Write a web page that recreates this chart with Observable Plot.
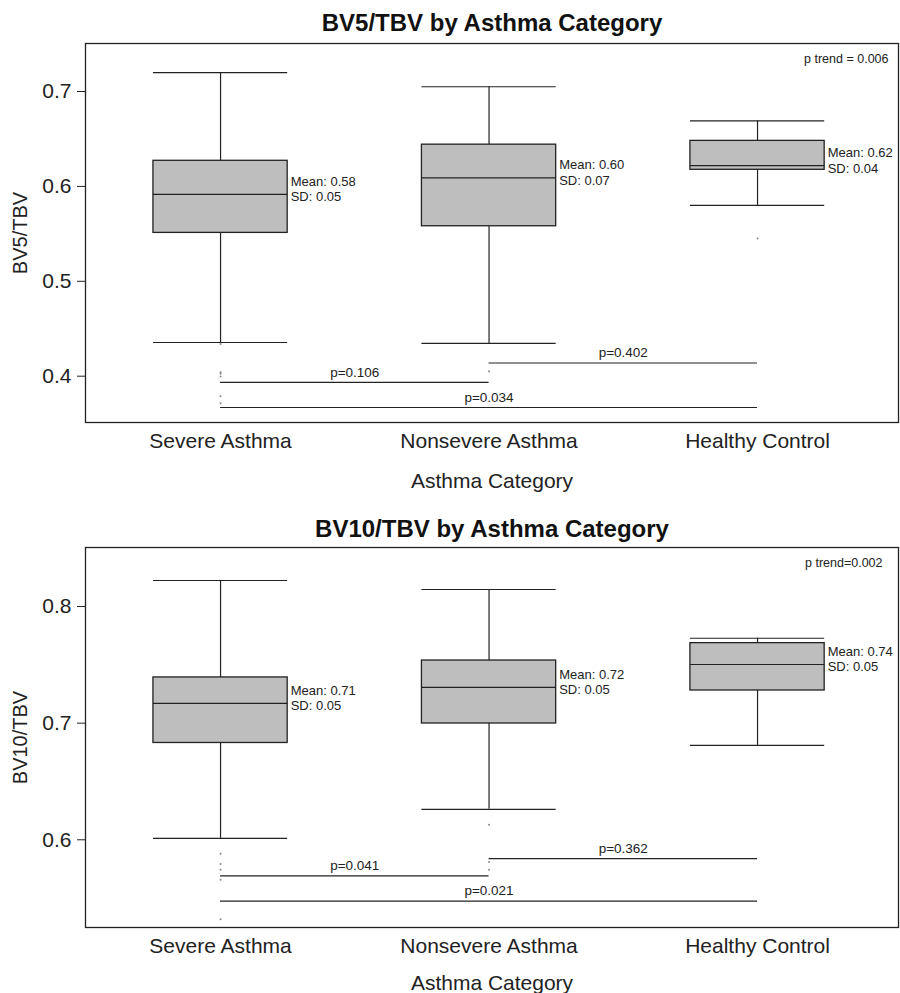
<!DOCTYPE html>
<html><head><meta charset="utf-8">
<script src="https://cdn.jsdelivr.net/npm/d3@7"></script>
<script src="https://cdn.jsdelivr.net/npm/@observablehq/plot@0.6"></script>
<style>
body{margin:0;background:#fff;font-family:"Liberation Sans",Arial,Helvetica,sans-serif;}
#root{width:900px;}
svg{display:block}
</style></head><body><div id="root"></div>
<script>
const categories = ["Severe Asthma", "Nonsevere Asthma", "Healthy Control"];
const xAxisLabel = "Asthma Category";

// Panel 1: BV5/TBV
const bv5Title = "BV5/TBV by Asthma Category";
const bv5YLabel = "BV5/TBV";
const bv5Ticks = [0.4, 0.5, 0.6, 0.7];
const bv5WhiskerHigh = [0.720, 0.705, 0.669];
const bv5Q3 = [0.627, 0.644, 0.648];
const bv5Median = [0.5915, 0.609, 0.622];
const bv5Q1 = [0.551, 0.558, 0.6175];
const bv5WhiskerLow = [0.4355, 0.4345, 0.580];
const bv5Mean = ["0.58", "0.60", "0.62"];
const bv5SD = ["0.05", "0.07", "0.04"];
const bv5OutlierCat = [0, 0, 0, 0, 0, 0, 1, 2];
const bv5OutlierValue = [0.434, 0.4042, 0.4025, 0.3997, 0.3789, 0.3715, 0.4053, 0.545];
const bv5PFrom = [0, 1, 0];
const bv5PTo = [1, 2, 2];
const bv5PLevel = [0.3934, 0.4139, 0.367];
const bv5PText = ["p=0.106", "p=0.402", "p=0.034"];
const bv5Trend = "p trend = 0.006";

// Panel 2: BV10/TBV
const bv10Title = "BV10/TBV by Asthma Category";
const bv10YLabel = "BV10/TBV";
const bv10Ticks = [0.6, 0.7, 0.8];
const bv10WhiskerHigh = [0.8223, 0.8146, 0.7728];
const bv10Q3 = [0.7392, 0.7537, 0.7686];
const bv10Median = [0.7169, 0.7306, 0.7503];
const bv10Q1 = [0.683, 0.6997, 0.728];
const bv10WhiskerLow = [0.6012, 0.6261, 0.681];
const bv10Mean = ["0.71", "0.72", "0.74"];
const bv10SD = ["0.05", "0.05", "0.05"];
const bv10OutlierCat = [0, 0, 0, 0, 0, 1, 1, 1];
const bv10OutlierValue = [0.5881, 0.5792, 0.5744, 0.5658, 0.5318, 0.6129, 0.5809, 0.5744];
const bv10PFrom = [0, 1, 0];
const bv10PTo = [1, 2, 2];
const bv10PLevel = [0.569, 0.5838, 0.5474];
const bv10PText = ["p=0.041", "p=0.362", "p=0.021"];
const bv10Trend = "p trend=0.002";

const FONT = '"Liberation Sans", Arial, Helvetica, sans-serif';
const INK = "#222";

function panel(cfg) {
  const boxes = categories.map((c, i) => ({
    i: i + 1, hi: cfg.hi[i], q3: cfg.q3[i], med: cfg.med[i], q1: cfg.q1[i], lo: cfg.lo[i],
    label: `Mean: ${cfg.mean[i]}\nSD: ${cfg.sd[i]}`
  }));
  const outliers = cfg.oCat.map((c, k) => ({i: c + 1, v: cfg.oVal[k]}));
  const comps = cfg.pFrom.map((f, k) => ({x1: f + 1, x2: cfg.pTo[k] + 1, y: cfg.pLevel[k], t: cfg.pText[k]}));
  const hw = 0.25;
  return Plot.plot({
    width: 900, height: cfg.height,
    marginTop: cfg.marginTop, marginBottom: cfg.marginBottom, marginLeft: 85, marginRight: 2,
    style: {fontFamily: FONT, fontSize: "21px", background: "white", color: INK, overflow: "visible"},
    x: {type: "linear", domain: [0.497, 3.525], ticks: [1, 2, 3], tickFormat: d => categories[d - 1],
        tickSize: 0, tickPadding: 11, label: null},
    y: {domain: cfg.yDomain, ticks: cfg.ticks, tickFormat: d3.format(".1f"), tickSize: 8, tickPadding: 6, label: null},
    marks: [
      Plot.ruleX(boxes, {x: "i", y1: "q3", y2: "hi", stroke: INK, strokeWidth: 1.2}),
      Plot.ruleX(boxes, {x: "i", y1: "lo", y2: "q1", stroke: INK, strokeWidth: 1.2}),
      Plot.ruleY(boxes, {y: "hi", x1: d => d.i - hw, x2: d => d.i + hw, stroke: INK, strokeWidth: 1.2}),
      Plot.ruleY(boxes, {y: "lo", x1: d => d.i - hw, x2: d => d.i + hw, stroke: INK, strokeWidth: 1.2}),
      Plot.rect(boxes, {x1: d => d.i - hw, x2: d => d.i + hw, y1: "q1", y2: "q3", fill: "#bebebe", stroke: INK, strokeWidth: 1.3}),
      Plot.ruleY(boxes, {y: "med", x1: d => d.i - hw, x2: d => d.i + hw, stroke: INK, strokeWidth: 1.2}),
      Plot.dot(outliers, {x: "i", y: "v", r: 1, fill: "#888", stroke: null}),
      Plot.ruleY(comps, {y: "y", x1: "x1", x2: "x2", stroke: INK, strokeWidth: 1.2}),
      Plot.text(comps, {x: d => (d.x1 + d.x2) / 2, y: "y", text: "t", dy: -10, fontSize: 13.5, fill: INK}),
      Plot.text(boxes, {x: d => d.i + hw, y: "med", text: "label", textAnchor: "start", lineAnchor: "middle",
        dx: 3, dy: -6, fontSize: 13, lineHeight: 1.22, fill: INK}),
      Plot.text([cfg.trend], {text: d => d, frameAnchor: "top-right", textAnchor: "end", lineAnchor: "middle",
        dx: cfg.trendDx, dy: 15, fontSize: 12.5, fill: INK}),
      Plot.text([cfg.title], {text: d => d, frameAnchor: "top", textAnchor: "middle", lineAnchor: "middle",
        dy: cfg.titleDy, fontSize: 24, fontWeight: "bold", fill: "#111"}),
      Plot.text([cfg.yLabel], {text: d => d, frameAnchor: "left", textAnchor: "middle", lineAnchor: "middle",
        rotate: -90, dx: -65, fontSize: 20, fill: INK}),
      Plot.text([xAxisLabel], {text: d => d, frameAnchor: "bottom", textAnchor: "middle", lineAnchor: "middle",
        dy: cfg.xLabelDy, fontSize: 21, fill: INK}),
      Plot.frame({stroke: INK, strokeWidth: 1.3})
    ]
  });
}

const root = document.getElementById("root");
root.appendChild(panel({
  height: 500, marginTop: 43, marginBottom: 78, yDomain: [0.3512, 0.7506], ticks: bv5Ticks,
  hi: bv5WhiskerHigh, q3: bv5Q3, med: bv5Median, q1: bv5Q1, lo: bv5WhiskerLow,
  mean: bv5Mean, sd: bv5SD, oCat: bv5OutlierCat, oVal: bv5OutlierValue,
  pFrom: bv5PFrom, pTo: bv5PTo, pLevel: bv5PLevel, pText: bv5PText,
  trend: bv5Trend, trendDx: -10, title: bv5Title, titleDy: -20, yLabel: bv5YLabel, xLabelDy: 59
}));
root.appendChild(panel({
  height: 493, marginTop: 47, marginBottom: 66, yDomain: [0.5248, 0.8506], ticks: bv10Ticks,
  hi: bv10WhiskerHigh, q3: bv10Q3, med: bv10Median, q1: bv10Q1, lo: bv10WhiskerLow,
  mean: bv10Mean, sd: bv10SD, oCat: bv10OutlierCat, oVal: bv10OutlierValue,
  pFrom: bv10PFrom, pTo: bv10PTo, pLevel: bv10PLevel, pText: bv10PText,
  trend: bv10Trend, trendDx: -16, title: bv10Title, titleDy: -18, yLabel: bv10YLabel, xLabelDy: 56
}));
</script></body></html>
